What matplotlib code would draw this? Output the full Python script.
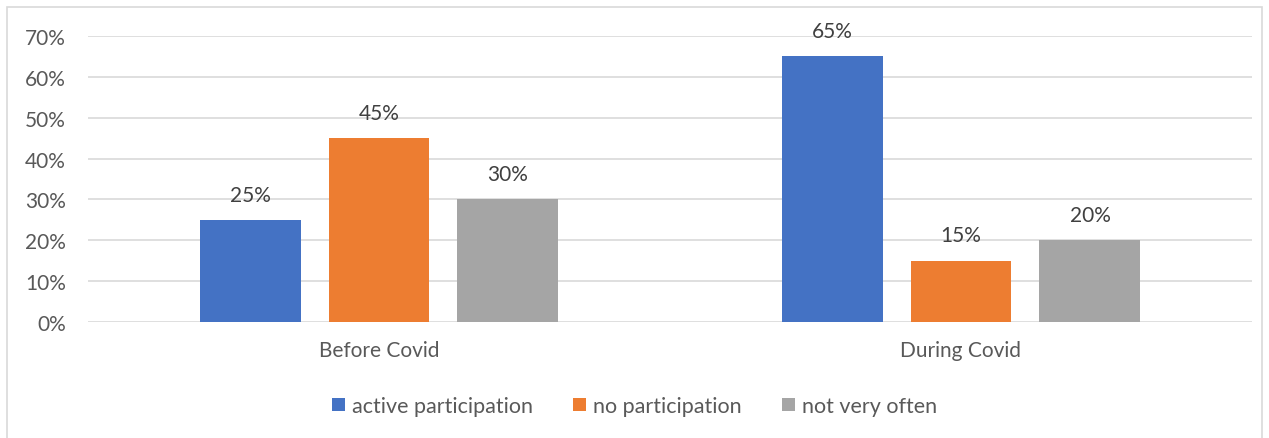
import numpy as np
import matplotlib.pyplot as plt
from matplotlib.patches import Rectangle

categories = ['Before Covid', 'During Covid']
series = ['active participation', 'no participation', 'not very often']
values = [
    [0.25, 0.65],
    [0.45, 0.15],
    [0.30, 0.20],
]
colors = ['#4472C4', '#ED7D31', '#A5A5A5']
yticks = [0, 0.1, 0.2, 0.3, 0.4, 0.5, 0.6, 0.7]

plt.rcParams['font.family'] = ['Lato', 'DejaVu Sans']
fs = 15

fig = plt.figure(figsize=(12.69, 4.39), dpi=100)
fig.patches.append(Rectangle((7 / 1269, -0.1), 1255 / 1269, 1.1 - 8 / 439,
                             transform=fig.transFigure, fill=False,
                             edgecolor='#D9D9D9', linewidth=1.2))

ax = fig.add_axes([88 / 1269, 1 - 323 / 439, (1252 - 88) / 1269, (323 - 37) / 439])

x = np.arange(len(categories))
width = 0.1735
step = 0.2216
for i, (name, vals, c) in enumerate(zip(series, values, colors)):
    pos = x + (i - 1) * step
    bars = ax.bar(pos, vals, width, color=c, label=name, zorder=3)
    for b, v in zip(bars, vals):
        ax.text(b.get_x() + b.get_width() / 2, v + 0.062, '%d%%' % round(v * 100),
                ha='center', va='center', fontsize=fs, color='#404040')

ax.set_xlim(-0.5, 1.5)
ax.set_ylim(0, 0.7)
ax.set_yticks(yticks)
ax.set_yticklabels(['%d%%' % round(t * 100) for t in yticks])
ax.set_xticks(x)
ax.set_xticklabels(categories)
ax.tick_params(axis='both', length=0, labelsize=fs, colors='#595959')
ax.tick_params(axis='y', pad=16)
ax.tick_params(axis='x', pad=13)
ax.grid(axis='y', color='#D9D9D9', linewidth=1.2, zorder=0)
for s in ax.spines.values():
    s.set_visible(False)

ax.legend(loc='center', bbox_to_anchor=(0.5, 1 - 407 / 439), bbox_transform=fig.transFigure,
          ncol=3, frameon=False, fontsize=15.5, labelcolor='#595959',
          handlelength=0.6, handleheight=0.6, handletextpad=0.3, columnspacing=1.9)

fig.savefig('out.png', dpi=100)
